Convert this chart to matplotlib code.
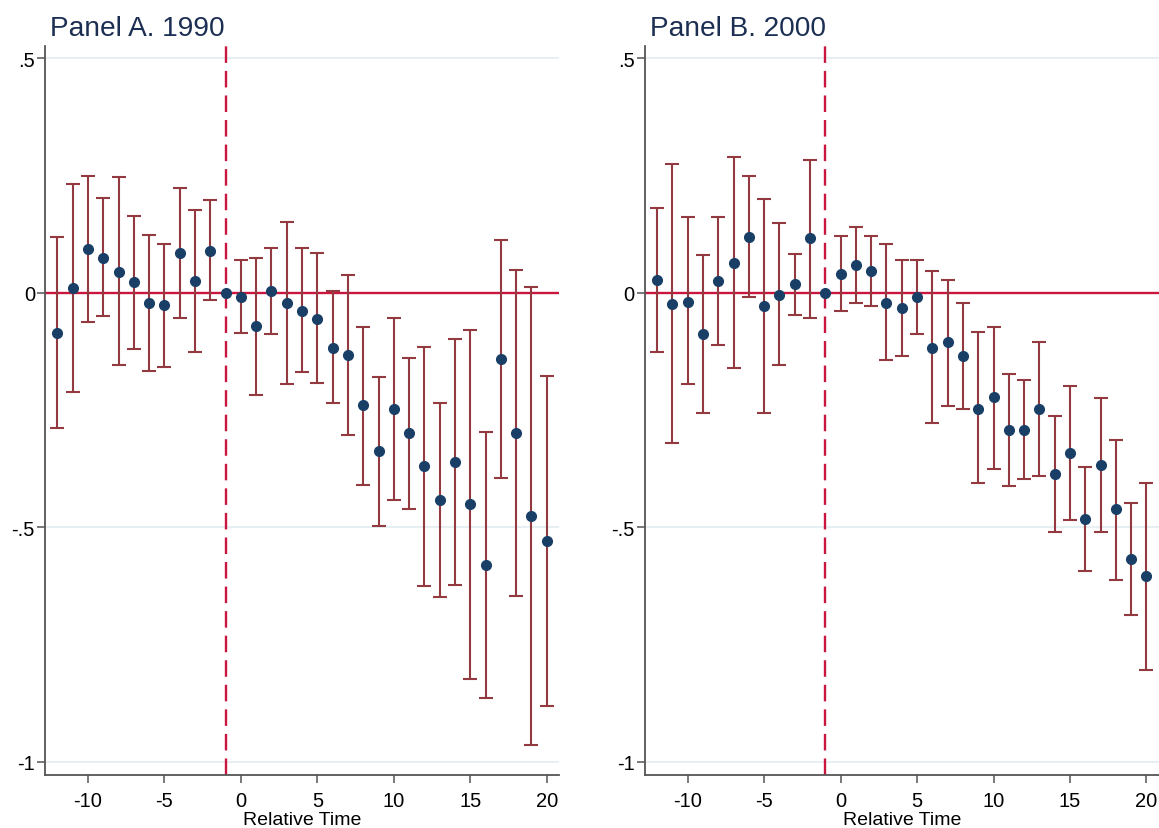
import matplotlib
matplotlib.use("Agg")
import matplotlib.pyplot as plt
import numpy as np

plt.rcParams['font.family'] = ['Liberation Sans', 'DejaVu Sans']
plt.rcParams['axes.unicode_minus'] = False

rel_time = list(range(-12, 21))

titles = ["Panel A. 1990", "Panel B. 2000"]

est_1990 = [-0.085, 0.010, 0.094, 0.075, 0.045, 0.022, -0.021, -0.026, 0.085, 0.024, 0.090, 0.0,
            -0.008, -0.071, 0.004, -0.022, -0.039, -0.055, -0.117, -0.133, -0.239, -0.337, -0.247,
            -0.300, -0.370, -0.441, -0.360, -0.451, -0.581, -0.141, -0.298, -0.476, -0.529]
lo_1990 = [-0.289, -0.212, -0.063, -0.050, -0.154, -0.120, -0.167, -0.159, -0.053, -0.126, -0.016, 0.0,
           -0.085, -0.218, -0.087, -0.195, -0.168, -0.193, -0.236, -0.303, -0.409, -0.497, -0.441,
           -0.461, -0.625, -0.649, -0.623, -0.824, -0.864, -0.394, -0.647, -0.964, -0.880]
hi_1990 = [0.119, 0.232, 0.248, 0.201, 0.246, 0.163, 0.124, 0.104, 0.224, 0.176, 0.198, 0.0,
           0.070, 0.075, 0.096, 0.151, 0.095, 0.084, 0.003, 0.037, -0.072, -0.180, -0.053,
           -0.139, -0.116, -0.234, -0.098, -0.080, -0.297, 0.112, 0.049, 0.013, -0.178]

est_2000 = [0.028, -0.025, -0.019, -0.087, 0.024, 0.063, 0.118, -0.028, -0.004, 0.018, 0.116, 0.0,
            0.041, 0.059, 0.047, -0.021, -0.033, -0.010, -0.117, -0.106, -0.135, -0.247, -0.223,
            -0.293, -0.293, -0.248, -0.387, -0.342, -0.482, -0.368, -0.461, -0.568, -0.603]
lo_2000 = [-0.126, -0.321, -0.195, -0.257, -0.112, -0.161, -0.010, -0.257, -0.155, -0.047, -0.053, 0.0,
           -0.039, -0.021, -0.028, -0.144, -0.134, -0.087, -0.278, -0.241, -0.248, -0.406, -0.375,
           -0.413, -0.398, -0.390, -0.510, -0.484, -0.594, -0.510, -0.612, -0.687, -0.805]
hi_2000 = [0.181, 0.274, 0.161, 0.080, 0.161, 0.289, 0.248, 0.200, 0.149, 0.083, 0.283, 0.0,
           0.122, 0.140, 0.122, 0.104, 0.070, 0.070, 0.046, 0.028, -0.021, -0.083, -0.074,
           -0.173, -0.185, -0.105, -0.262, -0.198, -0.372, -0.225, -0.313, -0.448, -0.405]

xticks = [-10, -5, 0, 5, 10, 15, 20]
yticks = [0.5, 0, -0.5, -1]
ytick_labels = [".5", "0", "-.5", "-1"]
event_time = -1

navy = "#1a3f66"
maroon = "#923a3f"
red_line = "#c8163f"
spine_col = "#555555"

fig = plt.figure(figsize=(11.59, 8.29), dpi=100)
W, H = 1159, 829
axes_px = [(45.3, 559.0), (645.0, 1158.7)]
top_px, bot_px = 47, 776

series = [(est_1990, lo_1990, hi_1990), (est_2000, lo_2000, hi_2000)]
for (l, r), title, (est, lo, hi) in zip(axes_px, titles, series):
    ax = fig.add_axes([l / W, (H - bot_px) / H, (r - l) / W, (bot_px - top_px) / H])
    est = np.array(est); lo = np.array(lo); hi = np.array(hi)
    x = np.array(rel_time)
    for yv in [0.5, -0.5, -1]:
        ax.axhline(yv, color="#e4eef1", lw=1.3, zorder=0)
    ax.axhline(0, color=red_line, lw=1.7, zorder=1)
    ax.axvline(event_time, color=red_line, lw=1.7, ls=(0, (7, 3.4)), zorder=1)
    mask = hi != lo
    ax.errorbar(x[mask], est[mask], yerr=[est[mask] - lo[mask], hi[mask] - est[mask]],
                fmt='none', ecolor=maroon, elinewidth=1.5, capsize=5, capthick=1.5, zorder=2)
    ax.plot(x, est, 'o', color=navy, markersize=7, zorder=3)
    ax.set_xlim(-12.79, 20.8)
    ax.set_ylim(-1.028, 0.526)
    ax.set_xticks(xticks)
    ax.set_xticklabels([str(t) for t in xticks])
    ax.set_yticks(yticks)
    ax.set_yticklabels(ytick_labels)
    ax.tick_params(axis='both', labelsize=14.5, colors='black', length=5.5, width=1.1, color=spine_col)
    ax.tick_params(axis='x', pad=6)
    ax.tick_params(axis='y', pad=2)
    for s in ['top', 'right']:
        ax.spines[s].set_visible(False)
    for s in ['left', 'bottom']:
        ax.spines[s].set_color(spine_col)
        ax.spines[s].set_linewidth(1.3)
    ax.set_xlabel("Relative Time", fontsize=14, labelpad=1)
    ax.set_title(title, loc='left', fontsize=20.2, color="#1c2f52", pad=8, x=0.01)

fig.savefig("out.png", dpi=100)
